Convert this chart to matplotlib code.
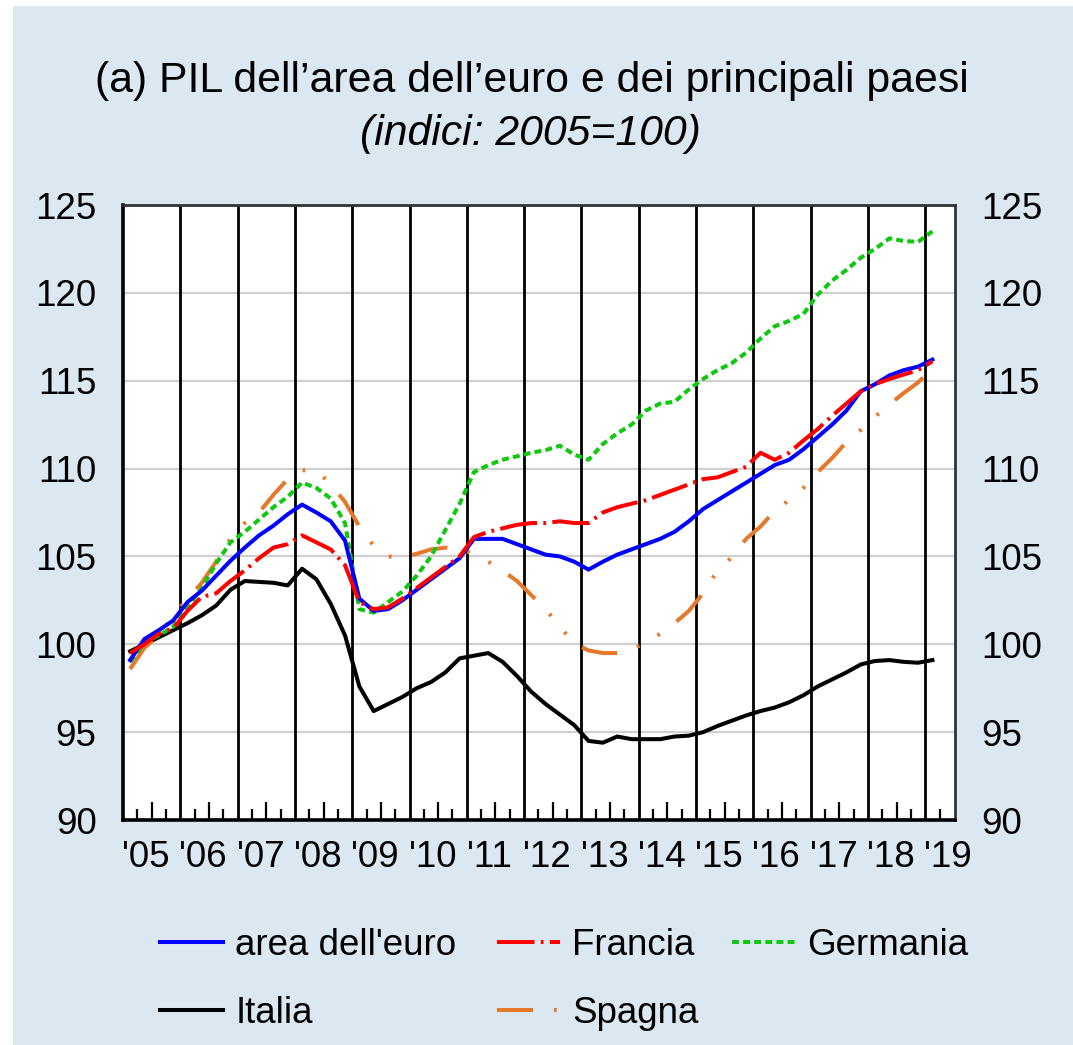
import numpy as np
import matplotlib
matplotlib.use("Agg")
import matplotlib.pyplot as plt
from matplotlib.patches import Rectangle

plt.rcParams['font.family'] = ['Liberation Sans', 'DejaVu Sans']
plt.rcParams['lines.scale_dashes'] = False

# quarterly data, 2005Q1 - 2019Q1 (index 2005=100)
first_year = 2005
last_year = 2019

euro = [99.1, 100.3, 100.8, 101.35, 102.4, 103.05, 103.9, 104.75, 105.5, 106.2,
        106.75, 107.4, 107.95, 107.5, 107.0, 105.9, 102.6, 101.9, 102.0, 102.5,
        103.1, 103.7, 104.3, 104.9, 106.0, 106.0, 106.0, 105.7, 105.4, 105.1,
        105.0, 104.7, 104.25, 104.7, 105.1, 105.4, 105.7, 106.0, 106.4, 107.0,
        107.7, 108.2, 108.7, 109.2, 109.7, 110.2, 110.5, 111.1, 111.8, 112.5,
        113.3, 114.4, 114.8, 115.3, 115.6, 115.8, 116.2]
francia = [99.5, 100.0, 100.6, 100.9, 101.9, 102.7, 102.9, 103.6, 104.2, 104.9,
           105.5, 105.7, 106.2, 105.8, 105.4, 104.5, 102.4, 102.0, 102.1, 102.6,
           103.2, 103.8, 104.4, 105.0, 106.1, 106.4, 106.6, 106.8, 106.9, 106.9,
           107.0, 106.9, 106.9, 107.5, 107.8, 108.0, 108.2, 108.5, 108.8, 109.1,
           109.4, 109.5, 109.8, 110.1, 110.9, 110.5, 110.9, 111.6, 112.25, 113.0,
           113.7, 114.4, 114.8, 115.1, 115.35, 115.6, 116.1]
germania = [99.0, 100.1, 100.5, 101.0, 102.1, 103.2, 104.6, 105.8, 106.4, 107.1,
            107.8, 108.4, 109.2, 108.9, 108.3, 106.9, 102.0, 101.8, 102.4, 103.0,
            103.9, 105.0, 106.5, 108.0, 109.8, 110.2, 110.5, 110.7, 110.9, 111.05,
            111.3, 110.8, 110.5, 111.4, 112.0, 112.5, 113.3, 113.7, 113.8, 114.5,
            115.1, 115.6, 116.0, 116.6, 117.4, 118.1, 118.4, 118.8, 119.9, 120.7,
            121.3, 122.0, 122.5, 123.1, 122.95, 122.9, 123.5]
italia = [99.6, 100.0, 100.4, 100.8, 101.2, 101.65, 102.2, 103.1, 103.6, 103.55,
          103.5, 103.35, 104.3, 103.7, 102.3, 100.5, 97.6, 96.2, 96.6, 97.0,
          97.5, 97.85, 98.4, 99.2, 99.35, 99.5, 99.0, 98.2, 97.3, 96.6,
          96.0, 95.4, 94.5, 94.4, 94.75, 94.6, 94.6, 94.6, 94.75, 94.8,
          95.0, 95.35, 95.65, 95.95, 96.2, 96.4, 96.7, 97.1, 97.6, 98.0,
          98.4, 98.85, 99.05, 99.1, 99.0, 98.95, 99.1]
spagna = [98.6, 99.8, 100.5, 101.6, 102.6, 103.5, 104.7, 106.0, 106.9, 107.5,
          108.5, 109.4, 109.9, 109.9, 109.1, 108.1, 106.7, 105.6, 105.0, 104.95,
          105.15, 105.4, 105.5, 105.5, 105.1, 104.7, 104.2, 103.6, 102.8, 102.0,
          101.0, 100.05, 99.65, 99.5, 99.5, 99.7, 100.1, 100.6, 101.2, 101.9,
          102.9, 104.2, 104.95, 106.0, 106.7, 107.6, 108.2, 108.9, 109.8, 110.6,
          111.5, 112.2, 112.95, 113.65, 114.3, 114.9, 115.7]

year_labels = ["'05", "'06", "'07", "'08", "'09", "'10", "'11", "'12",
               "'13", "'14", "'15", "'16", "'17", "'18", "'19"]
y_ticks = [90, 95, 100, 105, 110, 115, 120, 125]

# quarters plotted at the middle of each quarter
x = first_year + (np.arange(len(euro)) + 0.5) / 4

fig = plt.figure(figsize=(10.73, 10.45), dpi=100)
fig.patch.set_facecolor('white')
fig.patches.append(Rectangle((13 / 1073, 0), 1, 1 - 6 / 1045, transform=fig.transFigure,
                             facecolor='#dce8f1', edgecolor='none', zorder=-10))

fig.text(0.496, 1 - 81 / 1045, "(a) PIL dell’area dell’euro e dei principali paesi",
         ha='center', va='center', fontsize=30.8)
fig.text(0.494, 1 - 134 / 1045, "(indici: 2005=100)", ha='center', va='center',
         fontsize=30.8, style='italic')

ax = fig.add_axes([123 / 1073, 1 - 820 / 1045, (955 - 123) / 1073, (820 - 205) / 1045])
ax.set_facecolor('white')

lw = 2.9
l_it, = ax.plot(x, italia, color='black', lw=lw, label='Italia', zorder=3)
l_es, = ax.plot(x, spagna, color='#e5782a', lw=lw, linestyle=(0, (26, 15, 2, 15, 2, 15)),
                label='Spagna', zorder=3)
l_de, = ax.plot(x, germania, color='#10c810', lw=lw, linestyle=(0, (5, 3)),
                label='Germania', zorder=3)
l_ea, = ax.plot(x, euro, color='#0000ff', lw=lw, label="area dell'euro", zorder=3)
l_fr, = ax.plot(x, francia, color='#ff0000', lw=lw, linestyle=(0, (27, 4.5, 2, 4.5)),
                label='Francia', zorder=3)

ax.set_xlim(first_year, last_year + 0.52)
ax.set_ylim(90, 125)

# year separators
for yr in range(first_year + 1, last_year + 1):
    ax.axvline(yr, color='black', lw=2, zorder=2)

ax.set_yticks(y_ticks)
ax.grid(axis='y', color='#cfcfcf', lw=1.6, zorder=1)
ax.tick_params(axis='y', which='both', length=0, labelsize=26.5, pad=19,
               labelleft=True, labelright=True)

# quarter ticks on bottom axis
half = [yr + 0.5 for yr in range(first_year, last_year)]
quarters = [yr + q for yr in range(first_year, last_year) for q in (0.25, 0.75)] + [last_year + 0.25]
ax.set_xticks(half)
ax.set_xticks(quarters, minor=True)
ax.tick_params(axis='x', which='major', direction='in', length=13, width=1.6,
               labelbottom=False, top=False)
ax.tick_params(axis='x', which='minor', direction='in', length=8, width=1.6,
               labelbottom=False, top=False)

for yr, lab in zip(range(first_year, last_year + 1), year_labels):
    ax.text(yr + 0.4, -0.033, lab, transform=ax.get_xaxis_transform(),
            ha='center', va='top', fontsize=26.5)

for side in ['left', 'bottom']:
    ax.spines[side].set_linewidth(2.6)
for side in ['top', 'right']:
    ax.spines[side].set_linewidth(2)
    ax.spines[side].set_color('#333333')

leg_kw = dict(loc='upper left', frameon=False, borderpad=0, borderaxespad=0,
              fontsize=26.5, handlelength=1.7, handletextpad=0.35, labelspacing=0.9)
leg_top = 1 - 928 / 1045
fig.legend(handles=[l_ea, l_it], bbox_to_anchor=(160 / 1073, leg_top), **leg_kw)
fig.legend(handles=[l_fr, l_es], bbox_to_anchor=(497 / 1073, leg_top), **leg_kw)
fig.legend(handles=[l_de], bbox_to_anchor=(732 / 1073, leg_top), **leg_kw)

fig.savefig('out.png', dpi=100)
